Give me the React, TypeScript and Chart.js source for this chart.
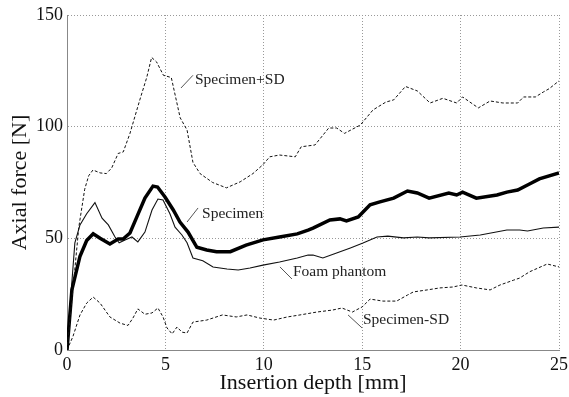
import React, { useEffect, useRef } from "react";
import { Chart, registerables } from "chart.js";

Chart.register(...registerables);

// ---- Data (insertion depth [mm] vs axial force [N]) ----
const specPlusSdX = [0, 0.3, 0.6, 0.9, 1.1, 1.32, 1.68, 2.0, 2.27, 2.6, 2.86, 3.2, 3.7, 4.05, 4.3, 4.55, 4.9, 5.3, 5.75, 6.1, 6.4, 6.76, 7.4, 8.1, 8.8, 9.45, 9.96, 10.3, 10.8, 11.6, 11.9, 12.6, 13.3, 13.7, 14.1, 14.9, 15.55, 16.2, 16.6, 17.2, 17.8, 18.45, 19.1, 19.8, 20.1, 20.9, 21.5, 22.15, 22.9, 23.2, 23.8, 24.2, 24.5, 25];
const specPlusSdY = [0, 27, 55, 72, 78, 80.6, 79.3, 79, 81.5, 88, 88.7, 97, 112, 122, 131, 129, 123, 122, 104, 98.5, 84, 79, 75, 72.6, 75.3, 79, 83, 86.5, 87.3, 86.5, 91, 91.8, 99.4, 99.4, 97, 100.7, 107.5, 111, 112, 118, 116, 110.6, 112.7, 110.6, 113.3, 108.4, 111.5, 110.6, 110.6, 113.3, 113.3, 115.5, 117, 120.5];

const specimenX = [0, 0.25, 0.66, 1.0, 1.33, 1.68, 2.18, 2.6, 2.85, 3.2, 3.55, 3.96, 4.37, 4.6, 4.98, 5.4, 5.74, 6.15, 6.6, 7.1, 7.6, 8.3, 9.1, 9.96, 10.8, 11.7, 12.25, 12.5, 13.36, 13.87, 14.2, 14.8, 15.4, 15.9, 16.6, 17.3, 17.8, 18.4, 19.4, 19.8, 20.1, 20.8, 21.85, 22.35, 22.9, 23.5, 24.0, 25];
const specimenY = [0, 27, 42, 49, 52, 50, 47.5, 49.7, 49.7, 52.4, 59.6, 68, 73.4, 73, 68.5, 62.7, 57.3, 52.8, 46, 44.8, 44, 44, 47, 49.3, 50.6, 52, 53.7, 54.6, 58.2, 58.7, 57.8, 59.6, 65, 66.3, 68, 71.2, 70.3, 68, 70.3, 69.4, 70.7, 68, 69.4, 70.7, 71.6, 74.3, 76.6, 79.3];

const foamX = [0, 0.2, 0.4, 0.66, 1.0, 1.42, 1.78, 2.1, 2.44, 2.65, 2.95, 3.3, 3.6, 3.96, 4.32, 4.62, 4.88, 5.23, 5.49, 5.84, 6.1, 6.4, 6.9, 7.42, 8.13, 8.7, 9.3, 9.96, 10.8, 11.7, 12.25, 12.5, 13.0, 13.7, 14.4, 15.04, 15.75, 16.3, 17.1, 17.8, 18.4, 19.97, 21.0, 22.35, 23.0, 23.4, 24.2, 25];
const foamY = [0, 25, 48, 56, 61, 66, 59, 56, 50.6, 48, 49.3, 50.6, 48.4, 52.8, 62.7, 67.6, 67.2, 61, 55, 51.5, 48, 41.2, 40, 37.2, 36.3, 35.8, 36.7, 38, 39.4, 41.2, 42.5, 42.5, 41.2, 43.4, 45.7, 47.9, 50.6, 51, 50.2, 50.6, 50.2, 50.6, 51.5, 53.7, 53.7, 53.3, 54.6, 55];

const specMinusSdX = [0, 0.3, 0.66, 1.0, 1.33, 1.68, 2.18, 2.7, 3.1, 3.35, 3.6, 3.96, 4.32, 4.62, 4.88, 5.08, 5.34, 5.59, 5.84, 6.1, 6.4, 7.1, 7.9, 8.6, 9.15, 9.8, 10.5, 11.2, 11.84, 12.7, 13.5, 13.97, 14.5, 15.0, 15.4, 16.05, 16.75, 17.3, 17.6, 18.3, 18.95, 19.6, 20.07, 20.8, 21.5, 22.0, 22.7, 23.0, 23.5, 24.4, 25];
const specMinusSdY = [0, 6, 15.7, 21, 23.7, 21, 14.8, 12, 11, 14.3, 18.4, 16, 16.6, 18.8, 14.8, 9.9, 7.2, 10.3, 8, 7.6, 12.5, 13.4, 15.7, 14.8, 15.7, 14.3, 13.4, 14.8, 15.7, 17, 17.9, 18.8, 17, 19.3, 22.8, 21.9, 21.9, 24.6, 26, 26.9, 27.8, 28.2, 29.1, 27.8, 26.9, 29.1, 31.3, 32.2, 35, 38.5, 37.2];

const xTitle = "Insertion depth [mm]";
const yTitle = "Axial force [N]";

// annotation labels with leader lines (data coordinates)
const labelTexts = ["Specimen+SD", "Specimen", "Foam phantom", "Specimen-SD"];
const leaderFrom = [[5.79, 117.3], [6.1, 57.3], [10.82, 37.2], [14.28, 15.7]];
const leaderTo = [[6.4, 123], [6.66, 63.6], [11.43, 31.8], [14.99, 9.9]];
const labelAt = [[6.5, 120.9], [6.86, 60.9], [11.48, 34.9], [15.04, 13.4]];

const SERIF = '"Liberation Serif", "Times New Roman", serif';

function pts(xs: number[], ys: number[]) {
  return xs.map((x, i) => ({ x, y: ys[i] }));
}

const leaderPlugin = {
  id: "leaderLabels",
  afterDatasetsDraw(chart: any) {
    const { ctx, scales } = chart;
    const sx = scales.x;
    const sy = scales.y;
    ctx.save();
    labelTexts.forEach((t, i) => {
      ctx.strokeStyle = "#555";
      ctx.lineWidth = 1;
      ctx.setLineDash([]);
      ctx.beginPath();
      ctx.moveTo(sx.getPixelForValue(leaderFrom[i][0]), sy.getPixelForValue(leaderFrom[i][1]));
      ctx.lineTo(sx.getPixelForValue(leaderTo[i][0]), sy.getPixelForValue(leaderTo[i][1]));
      ctx.stroke();
      ctx.font = `15.5px ${SERIF}`;
      ctx.fillStyle = "#222";
      ctx.textBaseline = "middle";
      ctx.textAlign = "left";
      ctx.fillText(t, sx.getPixelForValue(labelAt[i][0]), sy.getPixelForValue(labelAt[i][1]));
    });
    ctx.restore();
  },
};

export default function App() {
  const ref = useRef<HTMLCanvasElement | null>(null);
  useEffect(() => {
    if (!ref.current) return;
    const chart = new Chart(ref.current, {
      type: "line",
      data: {
        datasets: [
          {
            label: "Specimen+SD",
            data: pts(specPlusSdX, specPlusSdY),
            borderColor: "#111",
            borderWidth: 1,
            borderDash: [3, 2],
            pointRadius: 0,
            fill: false,
          },
          {
            label: "Specimen",
            data: pts(specimenX, specimenY),
            borderColor: "#000",
            borderWidth: 3.5,
            pointRadius: 0,
            fill: false,
          },
          {
            label: "Foam phantom",
            data: pts(foamX, foamY),
            borderColor: "#111",
            borderWidth: 1.1,
            pointRadius: 0,
            fill: false,
          },
          {
            label: "Specimen-SD",
            data: pts(specMinusSdX, specMinusSdY),
            borderColor: "#111",
            borderWidth: 1,
            borderDash: [3, 2],
            pointRadius: 0,
            fill: false,
          },
        ],
      },
      options: {
        animation: false,
        responsive: false,
        maintainAspectRatio: false,
        layout: { padding: { top: 15, right: 10, left: 0, bottom: 0 } },
        plugins: { legend: { display: false }, tooltip: { enabled: false } },
        scales: {
          x: {
            type: "linear",
            min: 0,
            max: 25,
            ticks: { stepSize: 5, color: "#111", font: { family: SERIF, size: 18 }, padding: 4, maxRotation: 0 },
            grid: { color: "#999", lineWidth: 1, drawTicks: false },
            border: { display: true, color: "#888", width: 1, dash: [1, 2] },
            title: { display: true, text: xTitle, color: "#111", font: { family: SERIF, size: 22 }, padding: { top: 0, bottom: 1 } },
            afterFit: (s: any) => { s.height = 47; s.paddingRight = 0; s.paddingLeft = 0; },
          },
          y: {
            type: "linear",
            min: 0,
            max: 150,
            ticks: { stepSize: 50, color: "#111", font: { family: SERIF, size: 18 }, padding: 4 },
            grid: { color: "#999", lineWidth: 1, drawTicks: false },
            border: { display: true, color: "#888", width: 1, dash: [1, 2] },
            title: { display: true, text: yTitle, color: "#111", font: { family: SERIF, size: 22 }, padding: { top: 7, bottom: 0 } },
            afterFit: (s: any) => { s.width = 67; s.paddingTop = 0; s.paddingBottom = 0; },
          },
        },
      },
      plugins: [leaderPlugin],
    });
    return () => chart.destroy();
  }, []);
  return (
    <div style={{ position: "absolute", left: 0, top: 0, width: 569, height: 397, background: "#fff" }}>
      <canvas ref={ref} width={569} height={397} style={{ display: "block" }} />
    </div>
  );
}
